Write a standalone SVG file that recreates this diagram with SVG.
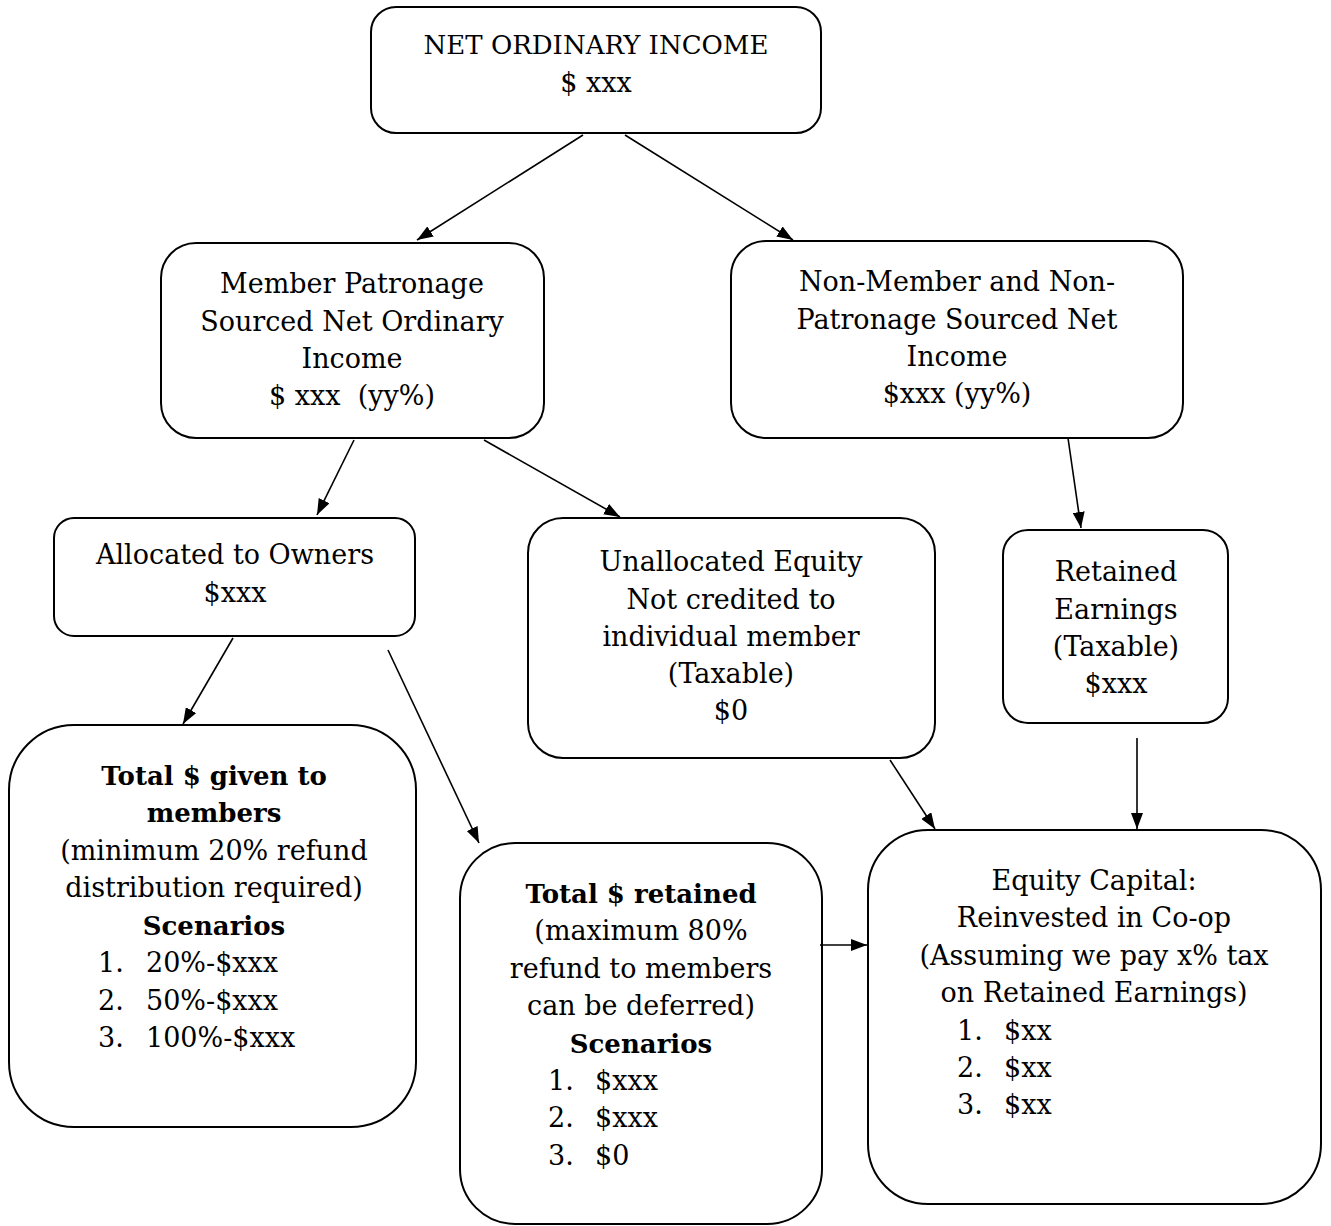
<svg xmlns="http://www.w3.org/2000/svg" width="1331" height="1226" viewBox="0 0 1331 1226">
<defs>
<marker id="a2" viewBox="0 0 16 12" refX="16" refY="6" markerWidth="16" markerHeight="12" markerUnits="userSpaceOnUse" orient="auto">
<path d="M0,0 L16,6 L0,12 z" fill="#000"/>
</marker>
<style>
.box{fill:#fff;stroke:#000;stroke-width:2}
text{font-family:"DejaVu Serif","Liberation Serif",serif;font-size:27px;fill:#000}
.c{text-anchor:middle}
.b{font-weight:bold;font-size:26px}
.t{font-size:26px}
.conn line{stroke:#000;stroke-width:1.6;marker-end:url(#a2)}
</style>
</defs>
<rect width="1331" height="1226" fill="#fff"/>
<g id="n1">
<rect class="box" x="371" y="7" width="450" height="126" rx="25"/>
<text class="c t" x="596" y="54">NET ORDINARY INCOME</text>
<text class="c" x="596" y="92">$ xxx</text>
</g>
<g id="n2">
<rect class="box" x="161" y="243" width="383" height="195" rx="35"/>
<text class="c" x="352" y="293">Member Patronage</text>
<text class="c" x="352" y="331">Sourced Net Ordinary</text>
<text class="c" x="352" y="368">Income</text>
<text class="c" x="352" y="405" xml:space="preserve">$ xxx  (yy%)</text>
</g>
<g id="n3">
<rect class="box" x="731" y="241" width="452" height="197" rx="35"/>
<text class="c" x="957" y="291">Non-Member and Non-</text>
<text class="c" x="957" y="329">Patronage Sourced Net</text>
<text class="c" x="957" y="366">Income</text>
<text class="c" x="957" y="403">$xxx (yy%)</text>
</g>
<g id="n4">
<rect class="box" x="54" y="518" width="361" height="118" rx="20"/>
<text class="c" x="235" y="564">Allocated to Owners</text>
<text class="c" x="235" y="602">$xxx</text>
</g>
<g id="n5">
<rect class="box" x="528" y="518" width="407" height="240" rx="35"/>
<text class="c" x="731" y="571">Unallocated Equity</text>
<text class="c" x="731" y="609">Not credited to</text>
<text class="c" x="731" y="646">individual member</text>
<text class="c" x="731" y="683">(Taxable)</text>
<text class="c" x="731" y="720">$0</text>
</g>
<g id="n6">
<rect class="box" x="1003" y="530" width="225" height="193" rx="25"/>
<text class="c" x="1116" y="581">Retained</text>
<text class="c" x="1116" y="619">Earnings</text>
<text class="c" x="1116" y="656">(Taxable)</text>
<text class="c" x="1116" y="693">$xxx</text>
</g>
<g id="n7">
<rect class="box" x="9" y="725" width="407" height="402" rx="65"/>
<text class="c b" x="214" y="785">Total $ given to</text>
<text class="c b" x="214" y="822">members</text>
<text class="c" x="214" y="860">(minimum 20% refund</text>
<text class="c" x="214" y="897">distribution required)</text>
<text class="c b" x="214" y="935">Scenarios</text>
<text x="98" y="972">1.</text><text x="146" y="972">20%-$xxx</text>
<text x="98" y="1010">2.</text><text x="146" y="1010">50%-$xxx</text>
<text x="98" y="1047">3.</text><text x="146" y="1047">100%-$xxx</text>
</g>
<g id="n8">
<rect class="box" x="460" y="843" width="362" height="381" rx="55"/>
<text class="c b" x="641" y="903">Total $ retained</text>
<text class="c" x="641" y="940">(maximum 80%</text>
<text class="c" x="641" y="978">refund to members</text>
<text class="c" x="641" y="1015">can be deferred)</text>
<text class="c b" x="641" y="1053">Scenarios</text>
<text x="548" y="1090">1.</text><text x="595" y="1090">$xxx</text>
<text x="548" y="1127">2.</text><text x="595" y="1127">$xxx</text>
<text x="548" y="1165">3.</text><text x="595" y="1165">$0</text>
</g>
<g id="n9">
<rect class="box" x="868" y="830" width="453" height="374" rx="60"/>
<text class="c" x="1094" y="890">Equity Capital:</text>
<text class="c" x="1094" y="927">Reinvested in Co-op</text>
<text class="c" x="1094" y="965">(Assuming we pay x% tax</text>
<text class="c" x="1094" y="1002">on Retained Earnings)</text>
<text x="957" y="1040">1.</text><text x="1004" y="1040">$xx</text>
<text x="957" y="1077">2.</text><text x="1004" y="1077">$xx</text>
<text x="957" y="1114">3.</text><text x="1004" y="1114">$xx</text>
</g>
<g id="connectors" class="conn">
<line x1="583" y1="135" x2="417" y2="240"/>
<line x1="625" y1="135" x2="793" y2="240"/>
<line x1="354" y1="440" x2="317" y2="515"/>
<line x1="484" y1="440" x2="620" y2="517"/>
<line x1="1068" y1="438" x2="1081" y2="528"/>
<line x1="233" y1="638" x2="183" y2="724"/>
<line x1="388" y1="650" x2="479" y2="843"/>
<line x1="890" y1="760" x2="935" y2="829"/>
<line x1="1137" y1="738" x2="1137" y2="829"/>
<line x1="820" y1="945" x2="867" y2="945"/>
</g>
</svg>
